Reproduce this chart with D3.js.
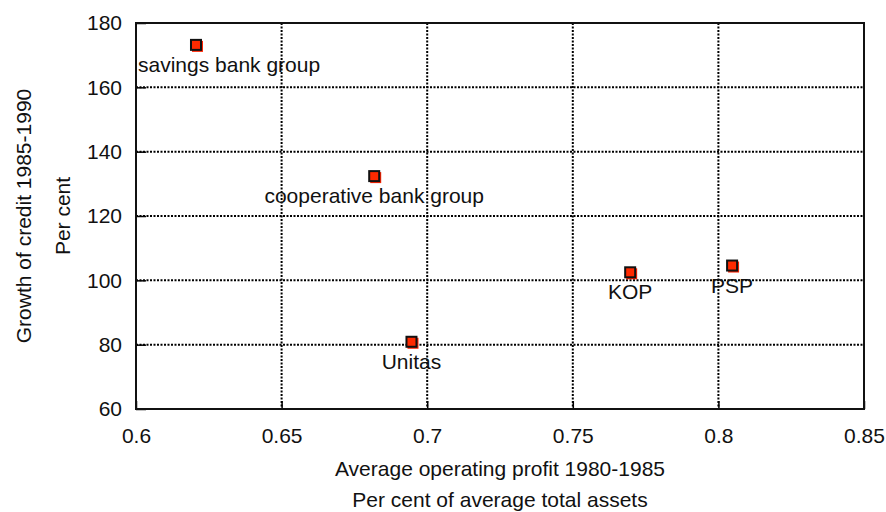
<html>
<script src="https://d3js.org/d3.v7.min.js"></script>
<style>
  body {margin: 0; background: white;}
  text {font-family: "Liberation Sans", Arial, sans-serif; fill: #111;}
</style>
<body>
<svg width="886" height="512"></svg>
<script>
// data
var banks = ["savings bank group", "cooperative bank group", "Unitas", "KOP", "PSP"]
var profit = [0.6206, 0.6818, 0.6946, 0.7697, 0.8047]
var growth = [173.2, 132.4, 80.9, 102.5, 104.6]
var xTicks = [0.6, 0.65, 0.7, 0.75, 0.8, 0.85]
var yTicks = [60, 80, 100, 120, 140, 160, 180]

var svg = d3.select("svg")
var mLeft = 136, mRight = 864, mTop = 23, mBottom = 409

var x = d3.scaleLinear().domain([0.6, 0.85]).range([mLeft, mRight])
var y = d3.scaleLinear().domain([60, 180]).range([mBottom, mTop])

// dotted grid
var grid = svg.append("g")
grid.selectAll(".gx").data(xTicks.slice(1, -1)).enter().append("line")
  .attr("x1", d => x(d)).attr("x2", d => x(d))
  .attr("y1", mTop).attr("y2", mBottom)
  .attr("stroke", "black").attr("stroke-width", 2).attr("stroke-dasharray", "2,1.5")
grid.selectAll(".gy").data(yTicks.slice(1, -1)).enter().append("line")
  .attr("x1", mLeft).attr("x2", mRight)
  .attr("y1", d => y(d)).attr("y2", d => y(d))
  .attr("stroke", "black").attr("stroke-width", 2).attr("stroke-dasharray", "2,1.5")

// axes, ticks inward
var xAxis = svg.append("g").attr("transform", "translate(0," + mBottom + ")")
  .call(d3.axisBottom(x).tickValues(xTicks).tickSize(-8).tickPadding(19).tickFormat(d3.format("")))
var yAxis = svg.append("g").attr("transform", "translate(" + mLeft + ",0)")
  .call(d3.axisLeft(y).tickValues(yTicks).tickSize(-10).tickPadding(14))
svg.selectAll(".tick text").attr("font-size", 21).attr("font-family", "Liberation Sans, Arial, sans-serif").attr("fill", "#111")
svg.selectAll(".tick line").attr("stroke-width", 1.5)
svg.selectAll(".domain").remove()

// frame
svg.append("rect").attr("x", mLeft).attr("y", mTop).attr("width", mRight - mLeft).attr("height", mBottom - mTop)
  .attr("fill", "none").attr("stroke", "#111").attr("stroke-width", 2)

// points
var pts = svg.append("g")
pts.selectAll(".shadow").data(banks).enter().append("rect")
  .attr("x", (d, i) => x(profit[i]) - 4).attr("y", (d, i) => y(growth[i]) - 4)
  .attr("width", 11).attr("height", 11).attr("fill", "#ff2200")
pts.selectAll(".mark").data(banks).enter().append("rect")
  .attr("x", (d, i) => x(profit[i]) - 5).attr("y", (d, i) => y(growth[i]) - 5)
  .attr("width", 10).attr("height", 10)
  .attr("fill", "#ff2a00").attr("stroke", "#111").attr("stroke-width", 2)

// labels under the points, kept inside the plot
pts.selectAll(".lab").data(banks).enter().append("text")
  .attr("x", (d, i) => x(profit[i])).attr("y", (d, i) => y(growth[i]) + 27)
  .attr("text-anchor", "middle").attr("font-size", 21)
  .text(d => d)
  .each(function() {
    var b = this.getBBox()
    if (b.x < mLeft + 2) d3.select(this).attr("x", +d3.select(this).attr("x") + (mLeft + 2 - b.x))
  })

// axis titles
svg.append("text").attr("x", (mLeft + mRight) / 2).attr("y", 476).attr("text-anchor", "middle")
  .attr("font-size", 21).text("Average operating profit 1980-1985")
svg.append("text").attr("x", (mLeft + mRight) / 2).attr("y", 507).attr("text-anchor", "middle")
  .attr("font-size", 21).text("Per cent of average total assets")
svg.append("text").attr("transform", "translate(31," + (mTop + mBottom) / 2 + ") rotate(-90)")
  .attr("text-anchor", "middle").attr("font-size", 21).text("Growth of credit 1985-1990")
svg.append("text").attr("transform", "translate(70," + (mTop + mBottom) / 2 + ") rotate(-90)")
  .attr("text-anchor", "middle").attr("font-size", 21).text("Per cent")
</script>
</body>
</html>
